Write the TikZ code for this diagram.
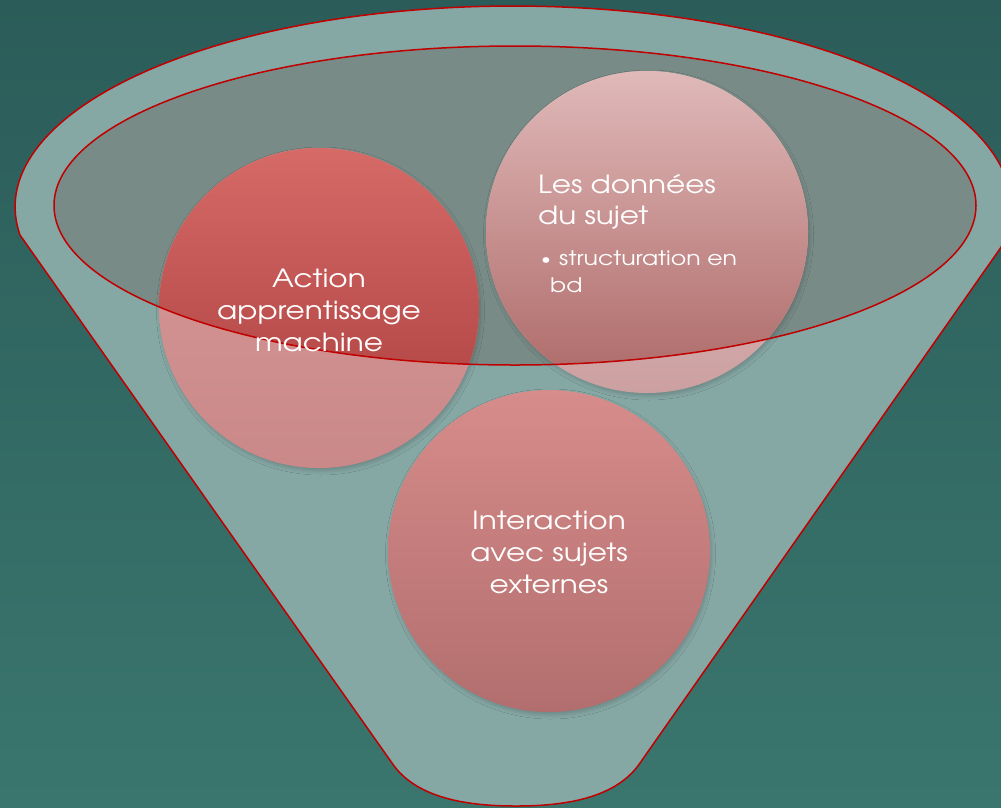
\documentclass[tikz,border=0pt]{standalone}
\usepackage{fontspec}
\setmainfont[FakeStretch=1.18]{TeX Gyre Adventor}
\usetikzlibrary{shadows.blur}
\definecolor{bgtop}{HTML}{2B5C59}
\definecolor{bgbot}{HTML}{3A766E}
\definecolor{funnelc}{HTML}{86A8A5}
\definecolor{innerc}{HTML}{788B87}
\definecolor{rim}{HTML}{C00000}
\definecolor{actTopOut}{HTML}{DA9A9A}
\definecolor{actBotOut}{HTML}{CA8888}
\definecolor{actTopIn}{HTML}{D66A67}
\definecolor{actBotIn}{HTML}{A83C3C}
\definecolor{donTopOut}{HTML}{E6C4C4}
\definecolor{donBotOut}{HTML}{CCA0A0}
\definecolor{donTopIn}{HTML}{E0B9B9}
\definecolor{donBotIn}{HTML}{AC6866}
\definecolor{intTop}{HTML}{D68C8A}
\definecolor{intBot}{HTML}{B26E6E}
\begin{document}
\begin{tikzpicture}[x=1pt,y=-1pt,
  outline/.style={draw=rim, line width=1.5pt},
  cshadow/.style={blur shadow={shadow xshift=1.5pt, shadow yshift=-3pt, shadow blur radius=4pt, shadow opacity=18}},
  big/.style={text=white, inner sep=0pt, anchor=base, font=\fontsize{25}{30}\selectfont},
  bigl/.style={big, anchor=base west},
  small/.style={text=white, inner sep=0pt, anchor=base west, font=\fontsize{20}{24}\selectfont}]
\useasboundingbox (0,0) rectangle (1001,807);
\shade[top color=bgtop, bottom color=bgbot] (0,0) rectangle (1001,807);
% funnel body
\path[fill=funnelc, outline] (20,235) arc[start angle=172, end angle=371.5, x radius=498, y radius=201]
  -- (640,763) .. controls (615,800) and (560,806) .. (516,806)
  .. controls (472,806) and (417,800) .. (392,763) -- cycle;
% inner ellipse fill
\fill[innerc] (515,205.5) ellipse[x radius=461, y radius=159.5];
% circles
\shade[cshadow, top color=actTopOut, bottom color=actBotOut] (319,308) circle[radius=160];
\shade[cshadow, top color=donTopOut, bottom color=donBotOut] (647,232) circle[radius=161];
\shade[cshadow, top color=intTop, bottom color=intBot] (549,551) circle[radius=161];
\begin{scope}
  \clip (515,205.5) ellipse[x radius=461, y radius=159.5];
  \shade[top color=actTopIn, bottom color=actBotIn] (319,308) circle[radius=160];
  \shade[top color=donTopIn, bottom color=donBotIn] (647,232) circle[radius=161];
\end{scope}
\draw[outline] (515,205.5) ellipse[x radius=461, y radius=159.5];
% texts
\node[big] (a1) at (319,287) {Action};
\node[big] (a2) at (319,319) {apprentissage};
\node[big] (a3) at (319,351) {machine};
\node[bigl] (d1) at (538,193) {Les données};
\node[bigl] (d2) at (538,224) {du sujet};
\node[small, font=\fontsize{16}{20}\selectfont] (d3) at (541,264) {•};
\node[small] (d4) at (559,265) {structuration en};
\node[small] (d5) at (550,292) {bd};
\node[big] (i1) at (549,529) {Interaction};
\node[big] (i2) at (549,561) {avec sujets};
\node[big] (i3) at (549,593) {externes};
\end{tikzpicture}
\end{document}
